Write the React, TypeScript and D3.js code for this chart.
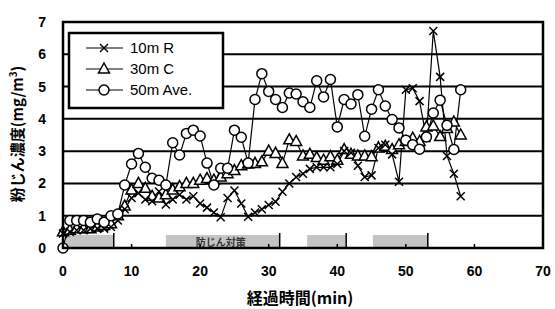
import * as d3 from "d3"

const times = d3.range(0, 59)

// 10m R (x markers)
const r10 = [0.45, 0.5, 0.55, 0.55, 0.6, 0.6, 0.6, 0.65, 0.85, 1.2, 1.55, 1.7, 1.5, 1.45, 1.75, 1.35, 1.5, 1.65, 1.5, 1.6,
  1.38, 1.25, 1.1, 0.95, 1.55, 1.78, 1.38, 0.97, 1.1, 1.2, 1.33, 1.43, 1.74, 2.0, 2.2, 2.3, 2.45, 2.5, 2.5, 2.5,
  2.6, 3.0, 2.95, 2.55, 2.2, 2.25, 3.1, 3.2, 2.9, 2.05, 4.9, 4.95, 4.55, 3.4, 6.72, 5.3, 2.85, 2.3, 1.6]

// 30m C (triangles)
const c30 = [0.5, 0.55, 0.6, 0.6, 0.6, 0.65, 0.7, 0.75, 1.0, 1.3, 1.8, 2.0, 1.85, 1.6, 1.55, 1.65, 1.8, 1.9, 2.0, 2.0,
  2.1, 2.15, 2.1, 2.2, 2.3, 2.4, 2.55, 2.6, 2.62, 2.67, 3.0, 2.93, 2.62, 3.35, 3.3, 2.85, 2.9, 2.8, 2.72, 2.83,
  2.72, 3.05, 2.9, 2.85, 2.85, 2.83, 3.1, 3.15, 3.05, 3.2, 3.3, 3.4, 3.3, 3.75, 3.78, 3.45, 3.7, 3.9, 3.5]

// 50m Ave. (circles)
const a50 = [0, 0.85, 0.85, 0.85, 0.8, 0.9, 0.8, 1.0, 1.05, 1.95, 2.6, 2.93, 2.5, 2.16, 2.1, 1.95, 3.26, 2.88, 3.55, 3.65,
  3.47, 2.63, 1.95, 2.47, 2.47, 3.65, 3.43, 2.63, 4.6, 5.4, 4.85, 4.6, 4.35, 4.8, 4.77, 4.53, 4.35, 5.18, 4.68, 5.22,
  3.75, 4.6, 4.46, 4.75, 3.46, 4.3, 4.9, 4.4, 3.98, 3.72, 3.34, 3.2, 3.06, 3.44, 4.18, 4.58, 3.8, 3.05, 4.9]

// shaded periods along the bottom (min)
const shadeStart = [0.4, 15, 35.6, 45.2]
const shadeEnd = [7.4, 31.6, 41.3, 53.2]

const xTicks = [0, 10, 20, 30, 40, 50, 60, 70]
const yTicks = [0, 1, 2, 3, 4, 5, 6, 7]

const W = 555
const H = 309
const margin = { top: 22, right: 12, bottom: 61, left: 63 }

export default function App() {
  const x = d3.scaleLinear().domain([0, 70]).range([margin.left, W - margin.right])
  const y = d3.scaleLinear().domain([0, 7]).range([H - margin.bottom, margin.top])

  const line = d3
    .line<number>()
    .x((_, i) => x(times[i]))
    .y((d) => y(d))

  const font = "'Liberation Sans', Arial, sans-serif"
  const jp = "'Noto Sans CJK JP', sans-serif"

  const circle = (cx: number, cy: number, k: string) => (
    <circle key={k} cx={cx} cy={cy} r={5} fill="white" stroke="black" strokeWidth={1.5} />
  )
  const tri = (cx: number, cy: number, k: string) => (
    <path key={k} d={`M${cx},${cy - 6}L${cx + 5.5},${cy + 4}L${cx - 5.5},${cy + 4}Z`} fill="white" stroke="black" strokeWidth={1.5} />
  )
  const cross = (cx: number, cy: number, k: string) => (
    <path key={k} d={`M${cx - 4},${cy - 4}L${cx + 4},${cy + 4}M${cx - 4},${cy + 4}L${cx + 4},${cy - 4}`} stroke="black" strokeWidth={1.5} />
  )

  const bandTop = y(0) - 13

  return (
    <svg width={W} height={H} style={{ position: "absolute", left: 0, top: 0, background: "white" }}>
      {/* grid */}
      {yTicks.slice(1).map((t) => (
        <line key={t} x1={margin.left} x2={W - margin.right} y1={y(t)} y2={y(t)} stroke="black" strokeWidth={2} />
      ))}

      {/* shaded periods */}
      {shadeStart.map((s, i) => (
        <g key={i}>
          <rect x={x(s)} y={bandTop} width={x(shadeEnd[i]) - x(s)} height={y(0) - bandTop} fill="#c4c4c4" />
          <line x1={x(shadeEnd[i])} x2={x(shadeEnd[i])} y1={bandTop - 2} y2={y(0)} stroke="black" strokeWidth={1.5} />
        </g>
      ))}
      <text x={x(23)} y={y(0) - 2.5} textAnchor="middle" fontFamily={jp} fontWeight="bold" fontSize={10} fill="#333">
        防じん対策
      </text>

      {/* series lines */}
      <path d={line(a50) || ""} fill="none" stroke="black" strokeWidth={1.2} />
      <path d={line(c30) || ""} fill="none" stroke="black" strokeWidth={1.2} />
      <path d={line(r10) || ""} fill="none" stroke="black" strokeWidth={1.2} />

      {c30.map((d, i) => tri(x(times[i]), y(d), `c${i}`))}
      {r10.map((d, i) => cross(x(times[i]), y(d), `r${i}`))}
      {a50.map((d, i) => circle(x(times[i]), y(d), `a${i}`))}

      {/* frame */}
      <rect x={margin.left} y={margin.top} width={W - margin.right - margin.left} height={y(0) - margin.top} fill="none" stroke="black" strokeWidth={2.5} />

      {/* ticks */}
      {xTicks.slice(1, -1).map((t) => (
        <line key={t} x1={x(t)} x2={x(t)} y1={y(0)} y2={y(0) - 4} stroke="black" strokeWidth={1.5} />
      ))}
      {xTicks.map((t) => (
        <text key={t} x={x(t)} y={y(0) + 28} textAnchor="middle" fontFamily={font} fontWeight="bold" fontSize={14}>
          {t}
        </text>
      ))}
      {yTicks.map((t) => (
        <text key={t} x={margin.left - 17} y={y(t) + 5} textAnchor="end" fontFamily={font} fontWeight="bold" fontSize={14}>
          {t}
        </text>
      ))}

      {/* axis titles */}
      <text x={300} y={304} textAnchor="middle" fontFamily={jp} fontWeight="bold" fontSize={16}>
        経過時間(min)
      </text>
      <text transform={`translate(23,${134}) rotate(-90)`} textAnchor="middle" fontFamily={jp} fontWeight="bold" fontSize={15}>
        粉じん濃度(mg/m<tspan dy={-6} fontSize={10}>3</tspan><tspan dy={6}>)</tspan>
      </text>

      {/* legend */}
      <rect x={69} y={33} width={154} height={75} fill="white" stroke="black" strokeWidth={2.5} />
      {["10m R", "30m C", "50m Ave."].map((name, i) => {
        const ly = 48 + i * 21
        const mk = i === 0 ? cross(104, ly, "l") : i === 1 ? tri(104, ly, "l") : circle(104, ly, "l")
        return (
          <g key={name}>
            <line x1={86} x2={123} y1={ly} y2={ly} stroke="black" strokeWidth={1.2} />
            {mk}
            <text x={130} y={ly + 5} fontFamily={font} fontSize={15}>
              {name}
            </text>
          </g>
        )
      })}
    </svg>
  )
}
